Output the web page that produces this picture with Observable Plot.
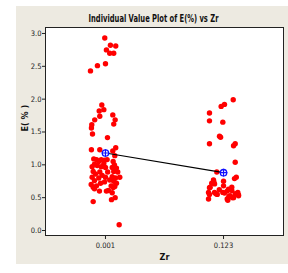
<!DOCTYPE html>
<html>
<head>
<meta charset="utf-8">
<script src="https://cdn.jsdelivr.net/npm/d3@7"></script>
<script src="https://cdn.jsdelivr.net/npm/@observablehq/plot@0.6"></script>
<style>
  html, body { margin: 0; padding: 0; background: #ffffff; }
  #wrap { position: relative; width: 288px; height: 273px; }
  #panel { position: absolute; left: 16px; top: 6px; width: 272px; height: 258px; background: #EDEAE1; }
  #chart { position: absolute; left: 0; top: 0; }
  #chart svg { background: transparent; }
</style>
</head>
<body>
<div id="wrap"><div id="panel"></div><div id="chart"></div></div>
<script>
const categories = ["0.001", "0.123"];
const title = "Individual Value Plot of E(%) vs Zr";
const xLabel = "Zr";
const yLabel = "E( % )";
const yTicks = [0, 0.5, 1.0, 1.5, 2.0, 2.5, 3.0];

// group 0.001: measured values and horizontal jitter (in category units)
const g1Values = [2.93, 2.82, 2.81, 2.75, 2.70, 2.70, 2.54, 2.51, 2.43,
  1.91, 1.84, 1.82, 1.74, 1.76, 1.685, 1.685, 1.62, 1.61, 1.56, 1.47, 1.415,
  1.23, 1.23, 1.21, 1.26, 1.14, 1.09, 1.08, 1.05, 1.08, 1.07, 1.08, 1.02, 1.01, 0.97, 0.99,
  0.97, 0.96, 1.05, 1.00, 0.96, 0.95, 0.90, 0.89, 0.90, 0.86, 0.89, 0.84, 0.80, 0.81, 0.76,
  0.81, 0.82, 0.80, 0.75, 0.72, 0.70, 0.68, 0.72, 0.74, 0.68, 0.89, 0.77, 0.81,
  0.66, 0.635, 0.60, 0.60, 0.61, 0.655, 0.67, 0.575, 0.50, 0.47, 0.44, 0.087];
const g1Jitter = [-0.006, 0.042, 0.087, 0.008, 0.036, 0.070, 0.000, -0.068, -0.127,
  -0.031, -0.014, -0.053, -0.048, 0.062, 0.082, -0.091, 0.070, -0.116, -0.119, -0.110, 0.017,
  -0.119, -0.048, 0.062, 0.087, 0.079, -0.099, -0.076, -0.057, -0.036, -0.008, 0.014, -0.014, -0.093, -0.113, -0.070,
  -0.036, 0.000, 0.065, 0.076, 0.057, 0.093, 0.070, 0.104, -0.104, -0.085, -0.048, -0.028, -0.057, -0.113, -0.093,
  0.000, 0.057, 0.085, 0.070, 0.093, -0.121, -0.076, -0.042, -0.008, 0.048, 0.019, 0.036, 0.121,
  -0.104, -0.093, -0.051, 0.008, 0.025, 0.065, 0.079, 0.057, 0.082, 0.051, -0.104, 0.116];

// group 0.123
const g2Values = [1.99, 1.92, 1.89, 1.79, 1.67, 1.65, 1.435, 1.42, 1.32, 1.32, 1.29, 1.04, 0.89,
  0.79, 0.81, 0.77, 0.72, 0.71, 0.75, 0.68, 0.66, 0.58, 0.58, 0.56, 0.58, 0.57, 0.63, 0.61,
  0.53, 0.56, 0.58, 0.53, 0.50, 0.46, 0.48, 0.66, 0.62, 0.65, 0.55, 0.74, 0.55, 0.60, 0.52,
  0.48, 0.50, 0.54];
const g2Jitter = [0.082, 0.008, -0.020, -0.119, -0.119, -0.006, -0.034, -0.025, -0.119, 0.099, 0.085, 0.099, -0.057,
  0.093, 0.108, -0.085, -0.100, -0.076, 0.000, 0.000, -0.113, -0.127, -0.076, -0.065, -0.006, 0.008, 0.042, 0.070,
  0.056, 0.099, 0.121, 0.127, 0.085, 0.036, -0.127, 0.070, -0.036, -0.119, -0.119, -0.082, -0.053, 0.031, 0.045,
  0.031, 0.076, 0.127];

const meanValues = [1.18, 0.88];

const points = [
  ...g1Values.map((v, i) => ({x: 0 + g1Jitter[i], y: v})),
  ...g2Values.map((v, i) => ({x: 1 + g2Jitter[i], y: v}))
];
const means = categories.map((c, i) => ({x: i, y: meanValues[i]}));

const font = "'Liberation Sans Narrow', 'DejaVu Sans Condensed', sans-serif";

const chart = Plot.plot({
  width: 288,
  height: 273,
  marginLeft: 45,
  marginRight: 5,
  marginTop: 27,
  marginBottom: 38,
  style: {fontFamily: font, fontSize: "8px", color: "#222", background: "transparent"},
  x: {domain: [-0.508, 1.508], axis: null},
  y: {domain: [-0.076, 3.091], axis: null},
  marks: [
    Plot.frame({fill: "white", stroke: "#222", strokeWidth: 1}),
    Plot.axisY({ticks: yTicks, tickFormat: d3.format(".1f"), tickSize: 3, tickPadding: 1, label: null, fontSize: 7.5}),
    Plot.axisX({ticks: [0, 1], tickFormat: i => categories[i], tickSize: 4, tickPadding: 3, label: null, fontSize: 7.5}),
    Plot.dot(points, {x: "x", y: "y", r: 2.7, fill: "#FF0000", stroke: "none"}),
    Plot.line(means, {x: "x", y: "y", stroke: "#000", strokeWidth: 1.2}),
    Plot.dot(means, {x: "x", y: "y", r: 3.2, fill: "white", stroke: "#1010FF", strokeWidth: 1.3}),
    Plot.dot(means, {x: "x", y: "y", symbol: "plus", r: 2.6, stroke: "#1010FF", strokeWidth: 1.2}),
    Plot.text([title], {frameAnchor: "top", dx: -11, dy: -13, text: d => d, fontWeight: "bold", fontSize: 10, fill: "#111", className: "ttl"}),
    Plot.text([xLabel], {frameAnchor: "bottom", dy: 24, text: d => d, fontWeight: "bold", fontSize: 9, fill: "#111"}),
    Plot.text([yLabel], {frameAnchor: "left", dx: -20, rotate: -90, text: d => d, fontWeight: "bold", fontSize: 9, fill: "#111"})
  ]
});
document.getElementById("chart").appendChild(chart);
chart.querySelectorAll("text").forEach(t => {
  if (t.textContent === title) {
    t.setAttribute("textLength", "130");
    t.setAttribute("lengthAdjust", "spacingAndGlyphs");
  }
});
</script>
</body>
</html>
